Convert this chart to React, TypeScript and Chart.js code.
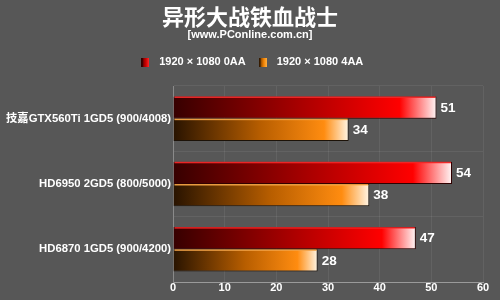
import React, { useEffect, useRef } from "react";
import { Chart, registerables } from "chart.js";

Chart.register(...registerables);

const titleText = "异形大战铁血战士";
const subtitleText = "[www.PConline.com.cn]";
const categories = ["技嘉GTX560Ti 1GD5 (900/4008)", "HD6950 2GD5 (800/5000)", "HD6870 1GD5 (900/4200)"];
const seriesNames = ["1920 × 1080 0AA", "1920 × 1080 4AA"];
const values0AA = [51, 54, 47];
const values4AA = [34, 38, 28];
const xTicks = [0, 10, 20, 30, 40, 50, 60];

const FONT = "'Liberation Sans', Arial, 'Noto Sans CJK SC', sans-serif";
const BG = "#575757";

const redStops: [number, string][] = [
  [0, "#360000"],
  [0.5, "#ad0000"],
  [0.86, "#ff0000"],
  [1, "#fff6f6"],
];
const orangeStops: [number, string][] = [
  [0, "#281300"],
  [0.5, "#b85e00"],
  [0.86, "#ff8c10"],
  [1, "#fff6e6"],
];

function barGradient(stops: [number, string][]) {
  return (ctx: any) => {
    const chart = ctx.chart;
    const xs = chart.scales && chart.scales.x;
    if (!xs || ctx.type !== "data") return stops[2][1];
    const x0 = xs.getPixelForValue(0);
    const x1 = xs.getPixelForValue(ctx.raw);
    if (!isFinite(x0) || !isFinite(x1) || x1 - x0 < 1) return stops[2][1];
    const g = chart.ctx.createLinearGradient(x0, 0, x1, 0);
    stops.forEach(([o, c]) => g.addColorStop(o, c));
    return g;
  };
}

function legendIcon(light: string, mid: string, dark: string) {
  const c = document.createElement("canvas");
  c.width = 8;
  c.height = 9;
  const g = c.getContext("2d")!;
  const gr = g.createLinearGradient(0, 0, 8, 0);
  gr.addColorStop(0, dark);
  gr.addColorStop(0.6, mid);
  gr.addColorStop(1, light);
  g.fillStyle = gr;
  g.fillRect(0, 0, 8, 9);
  g.fillStyle = "rgba(0,0,0,0.45)";
  g.fillRect(0, 0, 2, 9);
  return c;
}

const valueLabels = {
  id: "valueLabels",
  afterDatasetsDraw(chart: any) {
    const ctx = chart.ctx;
    ctx.save();
    chart.data.datasets.forEach((ds: any, di: number) => {
      const meta = chart.getDatasetMeta(di);
      meta.data.forEach((bar: any, i: number) => {
        const top = bar.y - bar.height / 2;
        ctx.fillStyle = di === 0 ? "rgba(255,40,40,0.9)" : "rgba(255,170,70,0.9)";
        ctx.fillRect(bar.base + 1, top, bar.x - bar.base - 2, 1.5);
        ctx.fillStyle = "#ffffff";
        ctx.font = `bold 13.5px ${FONT}`;
        ctx.textAlign = "left";
        ctx.textBaseline = "middle";
        ctx.fillText(String(ds.data[i]), bar.x + 4, bar.y + 0.5);
      });
    });
    ctx.restore();
  },
};

const legendPad = {
  id: "legendPad",
  beforeLayout(chart: any) {
    const lg = chart.legend;
    if (lg && !lg._padPatched) {
      const orig = lg.fit;
      lg.fit = function () {
        orig.call(this);
        this.height += 8.5;
      };
      lg._padPatched = true;
    }
  },
  afterLayout(chart: any) {
    // centre the header blocks over the whole canvas
    chart.boxes.forEach((b: any) => {
      if (b.position === "top" && !(b.axis)) {
        b.left = 0;
        b.right = chart.width;
        b.width = chart.width;
      }
    });
  },
};

export default function App() {
  const ref = useRef<HTMLCanvasElement | null>(null);
  useEffect(() => {
    if (!ref.current) return;
    const icons = [
      legendIcon("#ff3030", "#d00000", "#500000"),
      legendIcon("#ffb040", "#f08000", "#4a2400"),
    ];
    const chart = new Chart(ref.current, {
      type: "bar",
      data: {
        labels: categories,
        datasets: [
          {
            label: seriesNames[0],
            data: values0AA,
            backgroundColor: barGradient(redStops),
            borderColor: "#300000",
            borderWidth: 1,
            categoryPercentage: 0.68,
            barPercentage: 1,
          },
          {
            label: seriesNames[1],
            data: values4AA,
            backgroundColor: barGradient(orangeStops),
            borderColor: "#1c1208",
            borderWidth: 1,
            categoryPercentage: 0.68,
            barPercentage: 1,
          },
        ],
      },
      options: {
        indexAxis: "y",
        responsive: false,
        animation: false,
        layout: { padding: { left: 0, right: 17, top: 0, bottom: 0 } },
        plugins: {
          title: {
            display: true,
            text: titleText,
            color: "#ffffff",
            font: { family: "'Noto Sans CJK SC', sans-serif", size: 22, weight: "bold", lineHeight: 1 },
            padding: { top: 6, bottom: 0 },
          },
          subtitle: {
            display: true,
            text: subtitleText,
            color: "#ffffff",
            font: { family: FONT, size: 11, weight: "bold", lineHeight: 1.2 },
            padding: { top: 0, bottom: 6.8 },
          },
          legend: {
            display: true,
            labels: {
              color: "#ffffff",
              font: { family: FONT, size: 11, weight: "bold" },
              usePointStyle: true,
              pointStyleWidth: 17,
              padding: 8.5,
              generateLabels: (ch: any) =>
                ch.data.datasets.map((ds: any, i: number) => ({
                  text: ds.label,
                  fontColor: "#ffffff",
                  pointStyle: icons[i],
                  fillStyle: i === 0 ? "#d00000" : "#f08000",
                  strokeStyle: "transparent",
                  lineWidth: 0,
                  hidden: false,
                  datasetIndex: i,
                })),
            },
          },
          tooltip: { enabled: false },
        },
        scales: {
          x: {
            min: 0,
            max: 60,
            afterBuildTicks: (s: any) => {
              s.ticks = xTicks.map((v) => ({ value: v }));
            },
            ticks: {
              color: "#ffffff",
              font: { family: FONT, size: 11, weight: "bold" },
              padding: -1,
            },
            grid: { color: "rgba(255,255,255,0.07)", drawTicks: false },
            border: { color: "#9a9a9a", width: 1 },
            afterFit: (s: any) => {
              s.height = 18;
            },
          },
          y: {
            ticks: {
              color: "#ffffff",
              font: { family: FONT, size: 11.3, weight: "bold" },
              padding: 2,
            },
            grid: { color: "rgba(255,255,255,0.07)", drawTicks: false, offset: true },
            border: { color: "#8a8a8a", width: 1 },
            afterFit: (s: any) => {
              s.width = 173;
            },
          },
        },
      },
      plugins: [valueLabels, legendPad],
    });
    return () => chart.destroy();
  }, []);
  return (
    <div style={{ position: "fixed", left: 0, top: 0, width: 500, height: 300, background: BG }}>
      <canvas ref={ref} width={500} height={300} style={{ display: "block" }} />
    </div>
  );
}
